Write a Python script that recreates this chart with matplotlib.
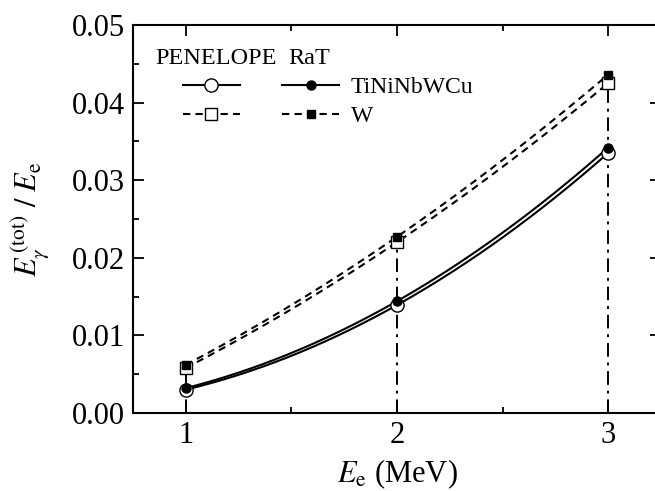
import numpy as np
import matplotlib
matplotlib.use("Agg")
import matplotlib.pyplot as plt
from matplotlib.lines import Line2D
from matplotlib.ticker import MultipleLocator, FormatStrFormatter

# electron energies (MeV) and total photon energy fraction
energy = [1, 2, 3]
pen_alloy = [0.0030, 0.0139, 0.0335]   # PENELOPE, TiNiNbWCu
rat_alloy = [0.0032, 0.0144, 0.0342]   # RaT, TiNiNbWCu
pen_w = [0.0058, 0.0220, 0.0425]       # PENELOPE, W
rat_w = [0.0062, 0.0227, 0.0436]       # RaT, W

plt.rcParams['font.family'] = ['Liberation Serif', 'DejaVu Serif']
plt.rcParams['mathtext.fontset'] = 'stix'

W_PX, H_PX = 655, 491
fig = plt.figure(figsize=(W_PX / 100, H_PX / 100), dpi=100)
ax = fig.add_axes([0.203, 0.159, 0.806, 0.790])


def smooth(x, y):
    # quadratic through the three points, for a smooth connecting line
    c = np.polyfit(x, y, 2)
    xs = np.linspace(min(x), max(x), 200)
    return xs, np.polyval(c, xs)


lw = 1.5
dash = (0, (3.5, 2.5))

# vertical guides from the axis up to the highest point
for xe, top in zip(energy, rat_w):
    ax.plot([xe, xe], [0, top], color='black', lw=1.4,
            linestyle=(0, (7, 3, 1.5, 3)), zorder=1)

for ys, ls in [(pen_alloy, '-'), (rat_alloy, '-'), (pen_w, dash), (rat_w, dash)]:
    xs, yy = smooth(energy, ys)
    ax.plot(xs, yy, color='black', lw=lw, linestyle=ls, zorder=2)

ax.plot(energy, pen_alloy, 'o', ms=9.5, mfc='white', mec='black', mew=1.0, zorder=3)
ax.plot(energy, pen_w, 's', ms=8.5, mfc='white', mec='black', mew=1.0, zorder=3)
ax.plot(energy, rat_alloy, 'o', ms=6.5, mfc='black', mec='black', zorder=4)
ax.plot(energy, rat_w, 's', ms=6, mfc='black', mec='black', zorder=4)

ax.set_xlim(0.75, 3.25)
ax.set_ylim(0, 0.05)
ax.xaxis.set_major_locator(MultipleLocator(1))
ax.xaxis.set_minor_locator(MultipleLocator(0.5))
ax.yaxis.set_major_locator(MultipleLocator(0.01))
ax.yaxis.set_minor_locator(MultipleLocator(0.005))
ax.yaxis.set_major_formatter(FormatStrFormatter('%.2f'))
ax.tick_params(which='both', direction='in', top=True, right=True, width=1.3)
ax.tick_params(which='major', length=8, labelsize=22, pad=6)
ax.tick_params(which='minor', length=4)
for sp in ax.spines.values():
    sp.set_linewidth(1.5)

ax.set_xlabel(r'$E_{\mathrm{e}}$ (MeV)', fontsize=22, labelpad=5)
ax.set_ylabel(r'$E_{\gamma}^{\,\mathrm{(tot)}}\ /\ E_{\mathrm{e}}$', fontsize=22, labelpad=14)

# legend headers: PENELOPE column (open) and RaT column (filled)
fig.text(155 / W_PX, 1 - 58 / H_PX, 'PENELOPE', fontsize=17.5, va='center', ha='left')
fig.text(288 / W_PX, 1 - 58 / H_PX, 'RaT', fontsize=17.5, va='center', ha='left')

handles = [
    Line2D([], [], color='black', lw=lw, marker='o', ms=9.5, mfc='white', mec='black'),
    Line2D([], [], color='black', lw=lw, ls=dash, marker='s', ms=8.5, mfc='white', mec='black'),
    Line2D([], [], color='black', lw=lw, marker='o', ms=6.5, mfc='black'),
    Line2D([], [], color='black', lw=lw, ls=dash, marker='s', ms=6, mfc='black'),
]
ax.legend(handles, ['', '', 'TiNiNbWCu', 'W'], ncol=2, frameon=False,
          fontsize=17, loc='upper left', bbox_to_anchor=(0.095, 0.867),
          borderpad=0, borderaxespad=0, handlelength=2.4,
          handletextpad=0.5, columnspacing=1.3, labelspacing=0.3)

fig.savefig('out.png', dpi=100)
